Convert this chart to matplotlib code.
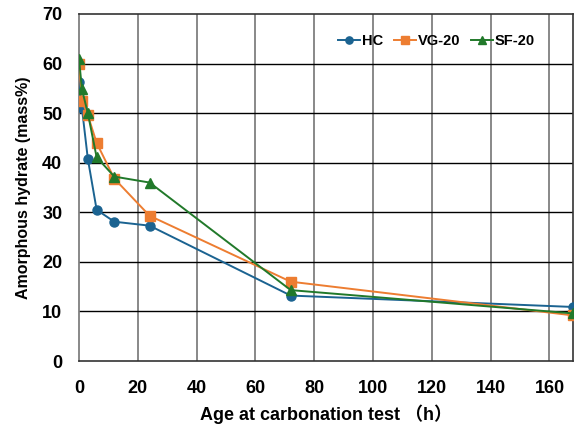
import matplotlib
matplotlib.use("Agg")
import matplotlib.pyplot as plt

plt.rcParams['font.family'] = ['Liberation Sans', 'Noto Sans CJK SC', 'DejaVu Sans']

hours = [0, 1, 3, 6, 12, 24, 72, 168]
hc = [56.2, 51.0, 40.8, 30.5, 28.1, 27.3, 13.2, 10.9]
vg20 = [59.9, 52.5, 49.6, 44.0, 36.8, 29.3, 16.0, 9.2]
sf20 = [61.0, 54.8, 50.0, 41.1, 37.2, 36.0, 14.3, 9.6]
series_names = ['HC', 'VG-20', 'SF-20']
xticks = [0, 20, 40, 60, 80, 100, 120, 140, 160]
yticks = [0, 10, 20, 30, 40, 50, 60, 70]

fig = plt.figure(figsize=(5.81, 4.30), dpi=100)
ax = fig.add_axes([79/581, 1-361/430, (573-79)/581, (361-14)/430])

for xv in xticks[1:]:
    ax.axvline(xv, color='#7f7f7f', lw=1.3, zorder=1)
for yv in yticks[1:-1]:
    ax.axhline(yv, color='black', lw=1.0, zorder=1)

ax.plot(hours, hc, color='#1b6391', marker='o', ms=6.5, lw=1.4, label=series_names[0], zorder=3)
ax.plot(hours, vg20, color='#ed7d31', marker='s', ms=6.5, lw=1.4, label=series_names[1], zorder=3)
ax.plot(hours, sf20, color='#21792a', marker='^', ms=7, lw=1.4, label=series_names[2], zorder=4)

ax.set_xlim(0, 168)
ax.set_ylim(0, 70)
ax.set_xticks(xticks)
ax.set_yticks(yticks)
ax.tick_params(length=0, labelsize=13)
ax.tick_params(axis='y', pad=12)
ax.tick_params(axis='x', pad=14)
for lab in ax.get_xticklabels() + ax.get_yticklabels():
    lab.set_fontweight('bold')
ax.spines['left'].set_color('#7f7f7f')
ax.spines['left'].set_linewidth(1.3)
for side in ['right', 'top', 'bottom']:
    ax.spines[side].set_color('#333333')
    ax.spines[side].set_linewidth(1.2)

ax.set_xlabel('Age at carbonation test （h）', fontsize=13, fontweight='bold', labelpad=5)
ax.set_ylabel('Amorphous hydrate (mass%)', fontsize=11.5, fontweight='bold', labelpad=8)

leg = ax.legend(loc='center left', bbox_to_anchor=(0.525, 0.922), ncol=3, frameon=False,
                prop={'weight': 'bold', 'size': 10.5}, handlelength=1.5, columnspacing=0.7,
                handletextpad=0.15, markerscale=0.8, borderpad=0, borderaxespad=0)

fig.savefig('out.png', dpi=100)
